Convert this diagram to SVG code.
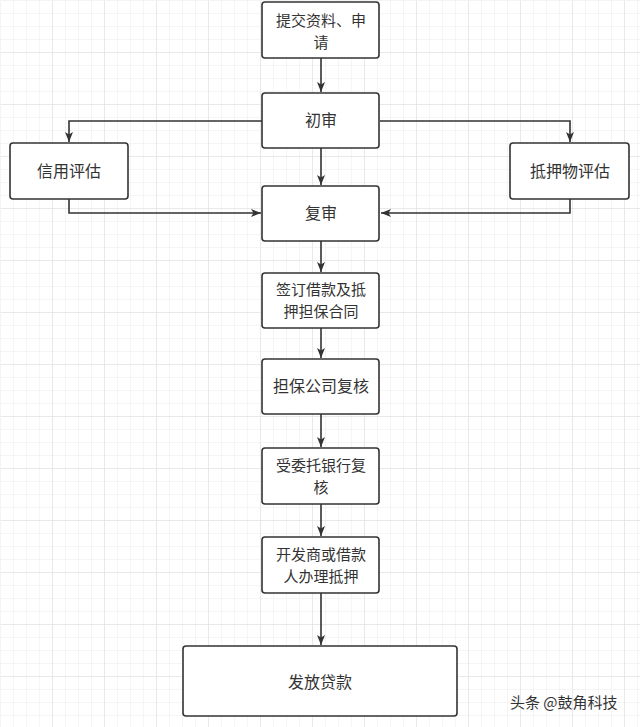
<svg xmlns="http://www.w3.org/2000/svg" width="640" height="727" viewBox="0 0 640 727">
<defs>
<pattern id="minor" width="13" height="13" patternUnits="userSpaceOnUse"><path d="M13 0H0V13" fill="none" stroke="#ececec" stroke-width="1"/></pattern>
<pattern id="major" width="52" height="52" patternUnits="userSpaceOnUse"><rect width="52" height="52" fill="url(#minor)"/><path d="M52 0H0V52" fill="none" stroke="#dcdcdc" stroke-width="1"/></pattern>
<marker id="arr" viewBox="0 0 10 10" refX="10" refY="5" markerWidth="10" markerHeight="10" markerUnits="userSpaceOnUse" orient="auto"><path d="M0 1L10 5L0 9L2.5 5Z" fill="#333"/></marker>
</defs>
<style>
.n rect{fill:#fff;stroke:#333;stroke-width:1.6}
.n text{font-family:"Noto Sans CJK SC","Noto Sans",sans-serif;font-size:16px;fill:#333;text-anchor:middle}
.n text.m{font-size:15px}
#edges path{fill:none;stroke:#333;stroke-width:1.6;marker-end:url(#arr)}
</style>
<rect x="0" y="0" width="640" height="727" fill="#fff"/>
<rect x="0.5" y="0.5" width="640" height="727" fill="url(#major)"/>
<g id="edges">
<path d="M321 58V92"/>
<path d="M321 148V185"/>
<path d="M262 121H69V142"/>
<path d="M380 121H570V142"/>
<path d="M69 199V213H261"/>
<path d="M570 199V213H381"/>
<path d="M321 241V272"/>
<path d="M321 328V358"/>
<path d="M321 414V447"/>
<path d="M321 504V536"/>
<path d="M321 593V645"/>
</g>
<g id="n1" class="n"><rect x="262" y="2" width="117" height="56" rx="3"/><text class="m" x="321" y="26">提交资料、申<tspan x="321" dy="22">请</tspan></text></g>
<g id="n2" class="n"><rect x="262" y="93" width="117" height="55" rx="3"/><text x="321" y="126">初审</text></g>
<g id="n3" class="n"><rect x="10" y="143" width="118" height="56" rx="3"/><text x="69" y="177">信用评估</text></g>
<g id="n4" class="n"><rect x="510" y="143" width="119" height="56" rx="3"/><text x="570" y="177">抵押物评估</text></g>
<g id="n5" class="n"><rect x="262" y="186" width="117" height="55" rx="3"/><text x="321" y="219">复审</text></g>
<g id="n6" class="n"><rect x="262" y="273" width="117" height="55" rx="3"/><text class="m" x="321" y="295">签订借款及抵<tspan x="321" dy="22">押担保合同</tspan></text></g>
<g id="n7" class="n"><rect x="262" y="359" width="117" height="55" rx="3"/><text x="321" y="392">担保公司复核</text></g>
<g id="n8" class="n"><rect x="262" y="448" width="117" height="56" rx="3"/><text class="m" x="321" y="471">受委托银行复<tspan x="321" dy="22">核</tspan></text></g>
<g id="n9" class="n"><rect x="262" y="537" width="117" height="56" rx="3"/><text class="m" x="321" y="560">开发商或借款<tspan x="321" dy="22">人办理抵押</tspan></text></g>
<g id="n10" class="n"><rect x="183" y="646" width="274" height="70" rx="3"/><text x="320" y="688">发放贷款</text></g>
<text x="510" y="708" font-family="'Noto Sans CJK SC',sans-serif" font-size="15" fill="#333">头条 @鼓角科技</text>
</svg>
